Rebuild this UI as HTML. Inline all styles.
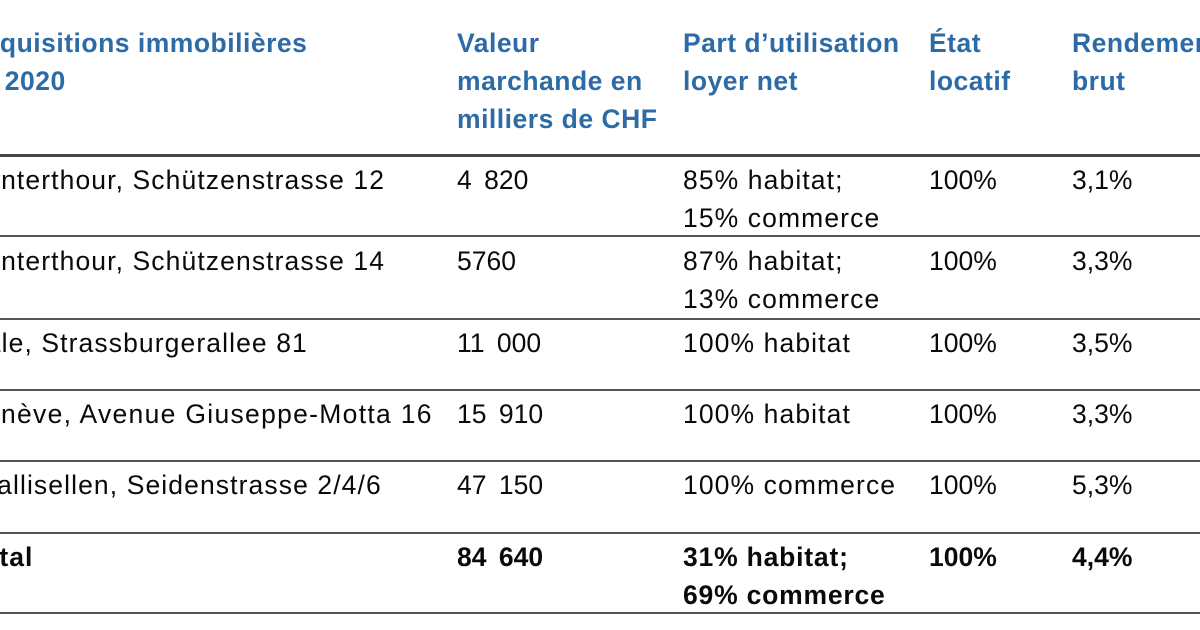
<!DOCTYPE html>
<html>
<head>
<meta charset="utf-8">
<style>
  html, body { margin:0; padding:0; }
  body { width:1200px; height:630px; overflow:hidden; background:#fff; position:relative;
         font-family:"Liberation Sans", sans-serif; font-size:26.5px; color:#0a0a0a; }
  .t { position:absolute; line-height:38px; white-space:nowrap; letter-spacing:1.1px; }
  .h { color:#2d6ba6; font-weight:bold; letter-spacing:0.5px; }
  .n { letter-spacing:0; word-spacing:5px; }
  .b { font-weight:bold; }
  .ln { position:absolute; left:0; width:1200px; height:2px; background:#50555b; }
</style>
</head>
<body>
<!-- header -->
<div class="t h" style="left:-35px; top:24px;">Acquisitions immobilières<br>en 2020</div>
<div class="t h" style="left:457px; top:24px;">Valeur<br>marchande en<br>milliers de CHF</div>
<div class="t h" style="left:683px; top:24px;">Part d’utilisation<br>loyer net</div>
<div class="t h" style="left:929px; top:24px;">État<br>locatif</div>
<div class="t h" style="left:1072px; top:24px;">Rendement<br>brut</div>

<div class="ln" style="top:154px; height:3px; background:#43484d;"></div>

<!-- row 1 -->
<div class="t" style="left:-32px; top:161px;">Winterthour, Schützenstrasse 12</div>
<div class="t n" style="left:457px; top:161px;">4 820</div>
<div class="t" style="left:683px; top:161px;">85% habitat;<br>15% commerce</div>
<div class="t n" style="left:929px; top:161px;">100%</div>
<div class="t n" style="left:1072px; top:161px;">3,1%</div>
<div class="ln" style="top:235px;"></div>

<!-- row 2 -->
<div class="t" style="left:-32px; top:242px;">Winterthour, Schützenstrasse 14</div>
<div class="t n" style="left:457px; top:242px;">5760</div>
<div class="t" style="left:683px; top:242px;">87% habitat;<br>13% commerce</div>
<div class="t n" style="left:929px; top:242px;">100%</div>
<div class="t n" style="left:1072px; top:242px;">3,3%</div>
<div class="ln" style="top:318px;"></div>

<!-- row 3 -->
<div class="t" style="left:-33px; top:324px;">Bâle, Strassburgerallee 81</div>
<div class="t n" style="left:457px; top:324px;">11 000</div>
<div class="t" style="left:683px; top:324px;">100% habitat</div>
<div class="t n" style="left:929px; top:324px;">100%</div>
<div class="t n" style="left:1072px; top:324px;">3,5%</div>
<div class="ln" style="top:389px;"></div>

<!-- row 4 -->
<div class="t" style="left:-37px; top:395px; letter-spacing:1.3px;">Genève, Avenue Giuseppe-Motta 16</div>
<div class="t n" style="left:457px; top:395px;">15 910</div>
<div class="t" style="left:683px; top:395px;">100% habitat</div>
<div class="t n" style="left:929px; top:395px;">100%</div>
<div class="t n" style="left:1072px; top:395px;">3,3%</div>
<div class="ln" style="top:460px;"></div>

<!-- row 5 -->
<div class="t" style="left:-28px; top:466px;">Wallisellen, Seidenstrasse 2/4/6</div>
<div class="t n" style="left:457px; top:466px;">47 150</div>
<div class="t" style="left:683px; top:466px;">100% commerce</div>
<div class="t n" style="left:929px; top:466px;">100%</div>
<div class="t n" style="left:1072px; top:466px;">5,3%</div>
<div class="ln" style="top:532px;"></div>

<!-- total -->
<div class="t b" style="left:-33px; top:538px; letter-spacing:1px;">Total</div>
<div class="t b n" style="left:457px; top:538px;">84 640</div>
<div class="t b" style="left:683px; top:538px; letter-spacing:0.8px;">31% habitat;<br>69% commerce</div>
<div class="t b n" style="left:929px; top:538px;">100%</div>
<div class="t b n" style="left:1072px; top:538px;">4,4%</div>
<div class="ln" style="top:612px;"></div>
</body>
</html>
